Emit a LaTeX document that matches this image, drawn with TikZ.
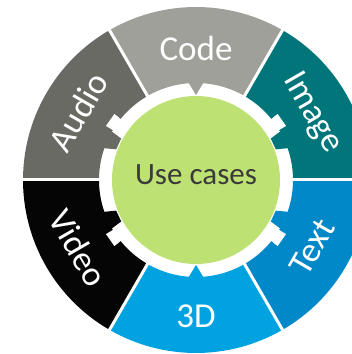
\documentclass[tikz,border=0pt]{standalone}
\usepackage{fontspec}
\setmainfont{Carlito}
\usetikzlibrary{calc}
\definecolor{cCode}{RGB}{160,160,155}
\definecolor{cAudio}{RGB}{106,106,100}
\definecolor{cVideo}{RGB}{5,5,5}
\definecolor{c3D}{RGB}{0,163,224}
\definecolor{cText}{RGB}{0,136,200}
\definecolor{cImage}{RGB}{0,118,122}
\definecolor{cGreen}{RGB}{190,225,115}
\definecolor{cDark}{RGB}{58,58,58}
\tikzset{
  seglabel/.style={text=white, font=\fontsize{35}{42}\selectfont, inner sep=0pt},
  hublabel/.style={text=cDark, font=\fontsize{31}{37}\selectfont, inner sep=0pt},
}
% ring sector
\newcommand{\segment}[2]{%
  \fill[#2] ($(C)+(#1-30:173)$) arc[start angle=#1-30, end angle=#1+30, radius=173pt]
     -- ($(C)+(#1+30:97)$) arc[start angle=#1+30, end angle=#1-30, radius=97pt] -- cycle;
}
% centred inward arrow tip
\newcommand{\midtip}[2]{%
  \fill[#2] ($(C)+(#1-4.5:98)$) -- ($(C)+(#1:85)$) -- ($(C)+(#1+4.5:98)$) -- cycle;
}
% side tab (#3 = +1/-1 toward the horizontal) and white notch on the other side
\newcommand{\sidetab}[3]{%
  \fill[#2] ($(C)+(#1:98)$) -- ($(C)+(#1+11*#3:98)$) -- ($(C)+(#1+9*#3:85.5)$) -- ($(C)+(#1+1*#3:85.5)$) -- cycle;
  \fill[white] ($(C)+(#1-1*#3:95)$) -- ($(C)+(#1-1*#3:105)$) -- ($(C)+(#1-9*#3:105)$) -- ($(C)+(#1-9*#3:95)$) -- cycle;
}
\begin{document}
\begin{tikzpicture}[x=1pt,y=1pt]
\useasboundingbox (0,0) rectangle (352,354);
\clip (0,0) rectangle (352,354);
\coordinate (C) at (196,174);
\segment{90}{cCode}
\segment{30}{cImage}
\segment{-30}{cText}
\segment{-90}{c3D}
\segment{-150}{cVideo}
\segment{150}{cAudio}
\midtip{90}{cCode}
\midtip{-90}{c3D}
\sidetab{150}{cAudio}{1}
\sidetab{210}{cVideo}{-1}
\sidetab{30}{cImage}{-1}
\sidetab{330}{cText}{1}
\foreach \a in {0,60,...,300}{
  \draw[white, line width=3pt] ($(C)+(\a:88)$) -- ($(C)+(\a:180)$);
}
\fill[cGreen] (C) circle (84);
\node[hublabel] (hub) at ($(C)+(0,5)$) {Use cases};
\node[seglabel] (code) at ($(C)+(90:132)$) {Code};
\node[seglabel, rotate=-60] (image) at ($(C)+(30:134)$) {Image};
\node[seglabel, rotate=60] (text) at ($(C)+(-30:134)$) {Text};
\node[seglabel] (threed) at ($(C)+(-90:136)$) {3D};
\node[seglabel, rotate=-60] (video) at ($(C)+(-150:136)$) {Video};
\node[seglabel, rotate=60] (audio) at ($(C)+(150:136)$) {Audio};
\end{tikzpicture}
\end{document}
